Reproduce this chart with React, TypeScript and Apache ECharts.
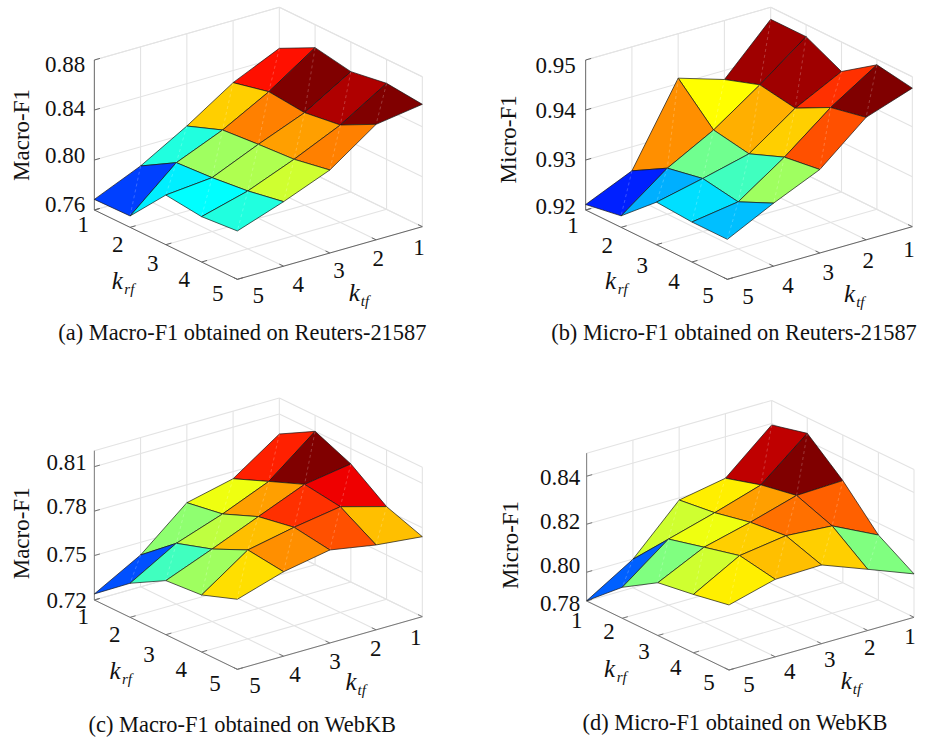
import React, { useEffect, useRef } from "react";
import * as echarts from "echarts";

const krfTicks = [1, 2, 3, 4, 5];
const ktfTicks = [5, 4, 3, 2, 1];

// Rows: k_rf = 1..5. Columns: k_tf = 5..1.
const macroReuters = [
  [0.7685, 0.7847, 0.8061, 0.8303, 0.8472],
  [0.7691, 0.8012, 0.8168, 0.8369, 0.8616],
  [0.7997, 0.8031, 0.8192, 0.834, 0.8563],
  [0.7963, 0.8063, 0.8211, 0.838, 0.8608],
  [0.7987, 0.8116, 0.8264, 0.8524, 0.8579],
];
const microReuters = [
  [0.9211, 0.9252, 0.9411, 0.9382, 0.9476],
  [0.9223, 0.9292, 0.9342, 0.9406, 0.9476],
  [0.9285, 0.9306, 0.9329, 0.9394, 0.9441],
  [0.928, 0.9294, 0.9357, 0.943, 0.9489],
  [0.928, 0.9326, 0.9367, 0.9445, 0.9477],
];
const macroWebKB = [
  [0.7241, 0.7415, 0.7679, 0.7752, 0.7965],
  [0.743, 0.7611, 0.772, 0.7851, 0.81],
  [0.7565, 0.7689, 0.7819, 0.7948, 0.7997],
  [0.7585, 0.78, 0.7864, 0.7914, 0.7826],
  [0.7673, 0.777, 0.7828, 0.7773, 0.774],
];
const microWebKB = [
  [0.7881, 0.7999, 0.8191, 0.8227, 0.8394],
  [0.8009, 0.8155, 0.821, 0.8271, 0.8431],
  [0.81, 0.8193, 0.8242, 0.8299, 0.8306],
  [0.8123, 0.823, 0.8258, 0.8244, 0.8151],
  [0.8151, 0.8203, 0.8208, 0.8135, 0.8061],
];

const zTicksA = [0.76, 0.8, 0.84, 0.88];
const zTicksB = [0.92, 0.93, 0.94, 0.95];
const zTicksC = [0.72, 0.75, 0.78, 0.81];
const zTicksD = [0.8, 0.82, 0.84];
const zLabelsA = ["0.76", "0.80", "0.84", "0.88"];
const zLabelsB = ["0.92", "0.93", "0.94", "0.95"];
const zLabelsC = ["0.72", "0.75", "0.78", "0.81"];
const zLabelsD = ["0.78", "0.80", "0.82", "0.84"];

type Pt = [number, number];
interface Panel {
  z: number[][]; zTicks: number[]; zLabels: string[]; yTitle: string; caption: string;
  ox: number; oy: number; // offset of the panel; all values below are in 1/3 px units
  L: Pt; F: Pt; R: Pt; zMin: number; zTop: number; scale: number;
  zLabelX: number; zLabelY: number[]; titlePos: Pt; captionPos: Pt;
  krfPos: Pt[]; ktfPos: Pt[]; kRf: Pt; kTf: Pt; axisColor: string;
}

const panels: Panel[] = [
  {
    z: macroReuters, zTicks: zTicksA, zLabels: zLabelsA, yTitle: "Macro-F1",
    caption: "(a) Macro-F1 obtained on Reuters-21587",
    ox: 0, oy: 0, L: [283, 630], F: [712, 838], R: [1267, 680],
    zMin: 0.76, zTop: 0.88, scale: 3750,
    zLabelX: 195, zLabelY: [612, 467, 325, 192], titlePos: [65, 405], captionPos: [727, 998],
    krfPos: [[250, 672], [353, 732], [458, 790], [553, 838], [653, 880]],
    ktfPos: [[775, 885], [895, 852], [1017, 812], [1135, 775], [1257, 742]],
    kRf: [352, 840], kTf: [1063, 878], axisColor: "#666",
  },
  {
    z: microReuters, zTicks: zTicksB, zLabels: zLabelsB, yTitle: "Micro-F1",
    caption: "(b) Micro-F1 obtained on Reuters-21587",
    ox: 464, oy: 0, L: [365, 630], F: [790, 838], R: [1345, 680],
    zMin: 0.92, zTop: 0.95, scale: 15000,
    zLabelX: 275, zLabelY: [620, 477, 332, 197], titlePos: [133, 418], captionPos: [810, 998],
    krfPos: [[327, 675], [430, 735], [535, 795], [630, 843], [732, 885]],
    ktfPos: [[852, 890], [972, 855], [1093, 818], [1213, 782], [1335, 747]],
    kRf: [440, 840], kTf: [1157, 880], axisColor: "#666",
  },
  {
    z: macroWebKB, zTicks: zTicksC, zLabels: zLabelsC, yTitle: "Macro-F1",
    caption: "(c) Macro-F1 obtained on WebKB",
    ox: 0, oy: 390, L: [283, 630], F: [712, 838], R: [1267, 680],
    zMin: 0.72, zTop: 0.8208, scale: 4444,
    zLabelX: 200, zLabelY: [630, 492, 350, 218], titlePos: [65, 430], captionPos: [727, 1002],
    krfPos: [[250, 680], [344, 732], [447, 792], [544, 838], [645, 880]],
    ktfPos: [[765, 887], [885, 852], [1005, 815], [1127, 775], [1247, 743]],
    kRf: [345, 840], kTf: [1053, 875], axisColor: "#777",
  },
  {
    z: microWebKB, zTicks: zTicksD, zLabels: zLabelsD, yTitle: "Micro-F1",
    caption: "(d) Micro-F1 obtained on WebKB",
    ox: 464, oy: 390, L: [368, 633], F: [795, 840], R: [1350, 682],
    zMin: 0.788, zTop: 0.8496, scale: 7200,
    zLabelX: 288, zLabelY: [640, 525, 395, 262], titlePos: [140, 465], captionPos: [813, 997],
    krfPos: [[338, 692], [435, 725], [540, 785], [635, 832], [735, 877]],
    ktfPos: [[855, 882], [977, 845], [1097, 808], [1217, 773], [1338, 738]],
    kRf: [437, 835], kTf: [1147, 872], axisColor: "#777",
  },
];

const FONT = '"Liberation Serif", "Times New Roman", serif';
const WALL = "#e3e3e3";

// 64-level jet colormap, as the source's surface uses
function jet(t: number): string {
  const k = Math.min(64, Math.floor(t * 64) + 1);
  const c = (v: number) => Math.round(255 * Math.max(0, Math.min(1, v)));
  const r = Math.min((k - 24) / 16, (72 - k) / 16);
  const g = Math.min((k - 8) / 16, (56 - k) / 16);
  const b = Math.min((k + 8) / 16, (40 - k) / 16);
  return `rgb(${c(r)},${c(g)},${c(b)})`;
}

// orthographic projection of (k_rf, k_tf, value) to the page-scale axes
function projector(p: Panel) {
  const dix = (p.F[0] - p.L[0]) / 4, diy = (p.F[1] - p.L[1]) / 4;
  const djx = (p.R[0] - p.F[0]) / 4, djy = (p.R[1] - p.F[1]) / 4;
  return (krf: number, ktf: number, v: number): Pt => {
    const i = krf - 1, j = 5 - ktf;
    return [
      p.ox + (p.L[0] + i * dix + j * djx) / 3,
      p.oy + (p.L[1] + i * diy + j * djy - (v - p.zMin) * p.scale) / 3,
    ];
  };
}

function wallSeries(p: Panel) {
  const P = projector(p);
  type Seg = { a: Pt; b: Pt; dark: boolean };
  const segs: Seg[] = [];
  const add = (a: Pt, b: Pt, dark = false) => segs.push({ a, b, dark });
  // wall verticals
  ktfTicks.forEach((k) => { if (k !== 5) add(P(1, k, p.zMin), P(1, k, p.zTop)); });
  krfTicks.forEach((k) => { if (k !== 1) add(P(k, 1, p.zMin), P(k, 1, p.zTop)); });
  // wall top edges
  add(P(1, 5, p.zTop), P(1, 1, p.zTop));
  add(P(1, 1, p.zTop), P(5, 1, p.zTop));
  // wall value lines
  p.zTicks.forEach((v) => {
    add(P(1, 5, v), P(1, 1, v));
    add(P(1, 1, v), P(5, 1, v));
  });
  // floor
  krfTicks.forEach((k) => add(P(k, 5, p.zMin), P(k, 1, p.zMin)));
  ktfTicks.forEach((k) => add(P(1, k, p.zMin), P(5, k, p.zMin)));
  // axes and ticks
  add(P(1, 5, p.zMin), P(1, 5, p.zTop), true);
  add(P(1, 5, p.zMin), P(5, 5, p.zMin), true);
  add(P(5, 5, p.zMin), P(5, 1, p.zMin), true);
  p.zTicks.forEach((v) => add(P(1, 5, v), P(1, 4.88, v), true));
  krfTicks.forEach((k) => add(P(k, 5, p.zMin), P(k, 4.88, p.zMin), true));
  ktfTicks.forEach((k) => add(P(5, k, p.zMin), P(4.88, k, p.zMin), true));
  return {
    type: "custom", coordinateSystem: "cartesian2d", silent: true, z: 1,
    data: segs.map((_, n) => [n, n]),
    renderItem: (params: any, api: any) => {
      const s = segs[params.dataIndex];
      const a = api.coord(s.a), b = api.coord(s.b);
      return {
        type: "line",
        shape: { x1: a[0], y1: a[1], x2: b[0], y2: b[1] },
        style: { stroke: s.dark ? p.axisColor : WALL, lineWidth: s.dark ? 1 : 1.1, fill: "none" },
        z2: s.dark ? 2 : 1,
      };
    },
  };
}

function surfaceSeries(p: Panel) {
  const P = projector(p);
  const all = p.z.flat();
  const lo = Math.min(...all), hi = Math.max(...all);
  const faces: [number, number][] = [];
  for (let r = 0; r < 4; r++) for (let c = 3; c >= 0; c--) faces.push([r, c]);
  return {
    type: "custom", coordinateSystem: "cartesian2d", silent: true, z: 3,
    data: faces,
    renderItem: (params: any, api: any) => {
      const [r, c] = faces[params.dataIndex];
      const pt = (ri: number, ci: number) =>
        api.coord(P(krfTicks[ri], ktfTicks[ci], p.z[ri][ci]));
      const a = pt(r, c), b = pt(r, c + 1), d = pt(r + 1, c + 1), e = pt(r + 1, c);
      const fill = jet((p.z[r][c + 1] - lo) / (hi - lo));
      return {
        type: "group",
        children: [
          {
            type: "polygon", shape: { points: [a, b, d, e] },
            style: { fill, stroke: "#151515", lineWidth: 0.7, lineJoin: "round" },
          },
          {
            type: "line", shape: { x1: b[0], y1: b[1], x2: e[0], y2: e[1] },
            style: { stroke: "rgba(255,255,255,0.32)", lineWidth: 0.7, lineDash: [3, 3], fill: "none" },
          },
        ],
      };
    },
  };
}

function panelTexts(p: Panel) {
  const px = (q: Pt): Pt => [p.ox + q[0] / 3, p.oy + q[1] / 3];
  const text = (s: string, q: Pt, size: number, extra: any = {}, styleExtra: any = {}) => ({
    type: "text", x: px(q)[0], y: px(q)[1], silent: true, z: 10, ...extra,
    style: { text: s, fontFamily: FONT, fontSize: size, fill: "#111", align: "center", verticalAlign: "middle", ...styleExtra },
  });
  const out: any[] = [];
  p.zLabels.forEach((s, n) => out.push(text(s, [p.zLabelX, p.zLabelY[n]], 23)));
  krfTicks.forEach((k, n) => out.push(text(String(k), p.krfPos[n], 23)));
  ktfTicks.forEach((k, n) => out.push(text(String(k), p.ktfPos[n], 23)));
  out.push(text(p.yTitle, p.titlePos, 23, { rotation: Math.PI / 2 }));
  out.push(text(p.caption, p.captionPos, 22.4));
  out.push(text("k", p.kRf, 25, {}, { fontStyle: "italic" }));
  out.push(text("rf", [p.kRf[0] + 36, p.kRf[1] + 26], 15, {}, { fontStyle: "italic" }));
  out.push(text("k", p.kTf, 25, {}, { fontStyle: "italic" }));
  out.push(text("tf", [p.kTf[0] + 32, p.kTf[1] + 26], 15, {}, { fontStyle: "italic" }));
  return out;
}

export default function App() {
  const ref = useRef<HTMLDivElement>(null);
  useEffect(() => {
    const chart = echarts.init(ref.current!, undefined, { renderer: "svg" });
    chart.setOption({
      animation: false,
      backgroundColor: "#fff",
      grid: { left: 0, right: 0, top: 0, bottom: 0 },
      xAxis: { type: "value", min: 0, max: 928, show: false },
      yAxis: { type: "value", min: 0, max: 737, inverse: true, show: false },
      series: panels.flatMap((p) => [wallSeries(p), surfaceSeries(p)]),
      graphic: { elements: panels.flatMap(panelTexts) },
    });
    return () => chart.dispose();
  }, []);
  return <div ref={ref} style={{ position: "fixed", left: 0, top: 0, width: 928, height: 737 }} />;
}
